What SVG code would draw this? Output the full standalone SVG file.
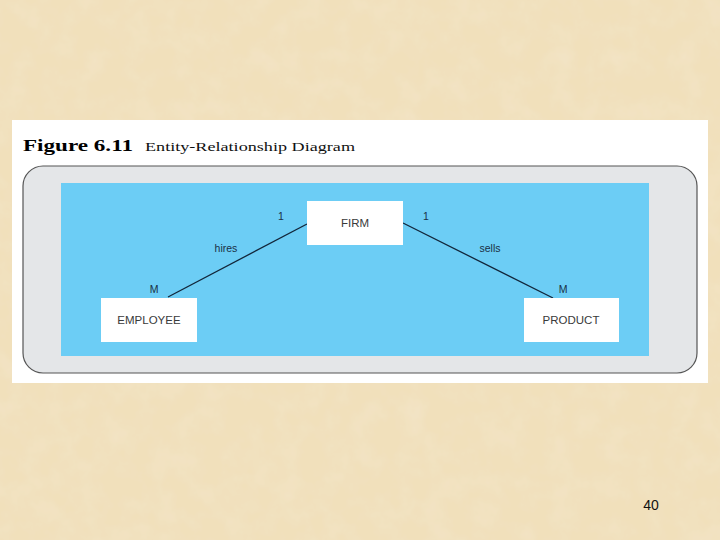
<svg xmlns="http://www.w3.org/2000/svg" width="720" height="540" viewBox="0 0 720 540">
<defs>
<filter id="parch" x="0" y="0" width="100%" height="100%">
<feTurbulence type="fractalNoise" baseFrequency="0.04" numOctaves="4" seed="3" result="n"/>
<feColorMatrix in="n" type="matrix" values="0 0 0 0 0.89  0 0 0 0 0.77  0 0 0 0 0.56  -1.6 0 0 0 1.0" result="c"/>
<feComposite in="c" in2="SourceGraphic" operator="over"/>
</filter>
<style>
.ent{fill:#ffffff}
.et{font-family:"Liberation Sans",Arial,sans-serif;font-size:11.5px;fill:#3a3a3a;text-anchor:middle}
.lb{font-family:"Liberation Sans",Arial,sans-serif;font-size:10.5px;fill:#1a3045;text-anchor:middle}
.ln{stroke:#12263a;stroke-width:1.3;fill:none}
</style>
</defs>
<rect x="0" y="0" width="720" height="540" fill="#f1e0bb" filter="url(#parch)"/>
<rect x="12" y="120" width="696" height="263" fill="#ffffff"/>
<text x="23" y="151" font-family="Liberation Serif,'Times New Roman',serif" font-size="17" font-weight="bold" fill="#000" textLength="110" lengthAdjust="spacingAndGlyphs">Figure 6.11</text>
<text x="145" y="151" font-family="Liberation Serif,'Times New Roman',serif" font-size="13.5" fill="#111" textLength="210" lengthAdjust="spacingAndGlyphs">Entity-Relationship Diagram</text>
<rect x="23" y="166" width="674" height="207" rx="20" ry="20" fill="#e4e6e8" stroke="#555" stroke-width="1.2"/>
<rect x="61" y="183" width="588" height="173" fill="#6ccdf5"/>
<g id="connectors">
<line class="ln" x1="168" y1="297" x2="307" y2="224"/>
<line class="ln" x1="403" y1="223" x2="553" y2="298"/>
<text class="lb" x="281" y="220">1</text>
<text class="lb" x="226" y="252">hires</text>
<text class="lb" x="154" y="293">M</text>
<text class="lb" x="426" y="220">1</text>
<text class="lb" x="490" y="252">sells</text>
<text class="lb" x="563" y="293">M</text>
</g>
<g id="firm">
<rect class="ent" x="307" y="201" width="96" height="44"/>
<text class="et" x="355" y="227">FIRM</text>
</g>
<g id="employee">
<rect class="ent" x="101" y="298" width="96" height="44"/>
<text class="et" x="149" y="324">EMPLOYEE</text>
</g>
<g id="product">
<rect class="ent" x="524" y="298" width="95" height="44"/>
<text class="et" x="571" y="324">PRODUCT</text>
</g>
<text x="651" y="510" font-family="'Liberation Sans',Arial,sans-serif" font-size="14" fill="#111" text-anchor="middle">40</text>
</svg>
